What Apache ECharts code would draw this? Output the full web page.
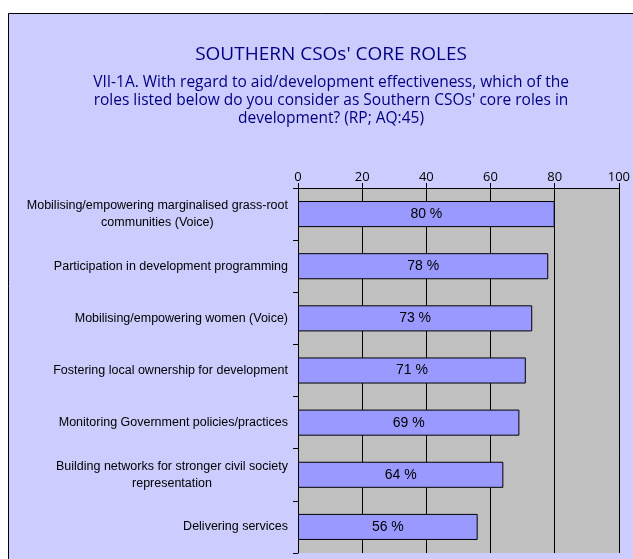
<!DOCTYPE html>
<html>
<head>
<meta charset="utf-8">
<script src="https://cdn.jsdelivr.net/npm/echarts@6/dist/echarts.min.js"></script>
<style>
  html, body { margin: 0; padding: 0; background: #fff; }
  #chart { width: 633px; height: 559px; }
</style>
</head>
<body>
<div id="chart"></div>
<script>
const roles = [
  ['Mobilising/empowering marginalised grass-root', 'communities (Voice)'],
  ['Participation in development programming'],
  ['Mobilising/empowering women (Voice)'],
  ['Fostering local ownership for development'],
  ['Monitoring Government policies/practices'],
  ['Building networks for stronger civil society', 'representation'],
  ['Delivering services']
]
const shares = [80, 78, 73, 71, 69, 64, 56]
const valueTicks = { min: 0, max: 100, interval: 20 }

const chart = echarts.init(document.getElementById('chart'))

chart.setOption({
  animation: false,
  graphic: [
    {
      type: 'rect',
      shape: { x: 8.5, y: 13.5, width: 700, height: 600 },
      style: { fill: '#ccccff', stroke: '#000', lineWidth: 1 },
      z: -10
    }
  ],
  title: {
    text: "SOUTHERN CSOs' CORE ROLES",
    subtext: 'VII-1A. With regard to aid/development effectiveness, which of the\nroles listed below do you consider as Southern CSOs\' core roles in\ndevelopment? (RP; AQ:45)',
    left: 331,
    top: 45,
    padding: 0,
    textAlign: 'center',
    itemGap: 10,
    textStyle: { fontFamily: 'Open Sans', fontSize: 19, fontWeight: 'normal', color: '#000080' },
    subtextStyle: { fontFamily: 'Open Sans', fontSize: 15.5, lineHeight: 18, color: '#000080' }
  },
  grid: { left: 298, top: 188, right: 14, bottom: 6, containLabel: false },
  xAxis: {
    type: 'value',
    position: 'top',
    min: valueTicks.min,
    max: valueTicks.max,
    interval: valueTicks.interval,
    axisLine: { show: true, lineStyle: { color: '#000', width: 1 } },
    axisTick: { show: true, inside: false, length: 5, lineStyle: { color: '#000' } },
    axisLabel: { margin: 4, fontFamily: 'Open Sans', fontSize: 13, color: '#000' },
    splitLine: { show: true, lineStyle: { color: '#000', width: 1 } }
  },
  yAxis: {
    type: 'category',
    inverse: true,
    data: roles.map((r) => r.join('\n')),
    axisLine: { show: true, lineStyle: { color: '#000', width: 1 } },
    axisTick: { show: true, length: 5, lineStyle: { color: '#000' } },
    axisLabel: {
      margin: 10,
      fontFamily: 'Liberation Sans',
      fontSize: 12.5,
      color: '#000',
      lineHeight: 17,
      formatter: (value) => value.split('\n').map((line) => `{c|${line}}`).join('\n'),
      rich: { c: { align: 'center', fontFamily: 'Liberation Sans', fontSize: 12.5, lineHeight: 17, color: '#000' } }
    },
    splitArea: { show: true, areaStyle: { color: ['#c0c0c0'] } }
  },
  series: [
    {
      type: 'bar',
      data: shares,
      barWidth: '50%',
      itemStyle: { color: '#9999ff', borderColor: '#000', borderWidth: 1 },
      label: {
        show: true,
        position: 'inside',
        formatter: '{c} %',
        fontFamily: 'Liberation Sans',
        fontSize: 14,
        color: '#000'
      }
    }
  ]
})
</script>
</body>
</html>
